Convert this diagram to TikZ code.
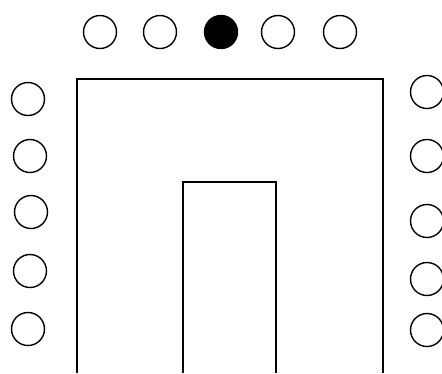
\documentclass[tikz,border=0pt]{standalone}
\usepackage{tikz}
\usetikzlibrary{positioning}

\begin{document}
\begin{tikzpicture}[
  x=1pt, y=-1pt,
  seat/.style={draw, circle, line width=1.4pt, minimum size=33pt, inner sep=0pt},
  taken/.style={seat, fill=black},
  wall/.style={line width=2.6pt, line join=miter},
]
\useasboundingbox (0,0) rectangle (442,373);

% Seats along the top
\node[seat]  (t1) at (100,32) {};
\node[seat]  (t2) at (160,32) {};
\node[taken] (t3) at (221,32) {};
\node[seat]  (t4) at (278,32) {};
\node[seat]  (t5) at (340,32) {};

% Seats on the left
\node[seat] (l1) at (28,99) {};
\node[seat] (l2) at (30,156) {};
\node[seat] (l3) at (31,212) {};
\node[seat] (l4) at (30,271) {};
\node[seat] (l5) at (28,329) {};

% Seats on the right
\node[seat] (r1) at (427,92) {};
\node[seat] (r2) at (427,156) {};
\node[seat] (r3) at (427,221) {};
\node[seat] (r4) at (427,279) {};
\node[seat] (r5) at (427,330) {};

% Table outline
\draw[wall] (77,373) -- (77,79) -- (383,79) -- (383,373);
\draw[wall] (183,373) -- (183,182) -- (276,182) -- (276,373);
\end{tikzpicture}
\end{document}
